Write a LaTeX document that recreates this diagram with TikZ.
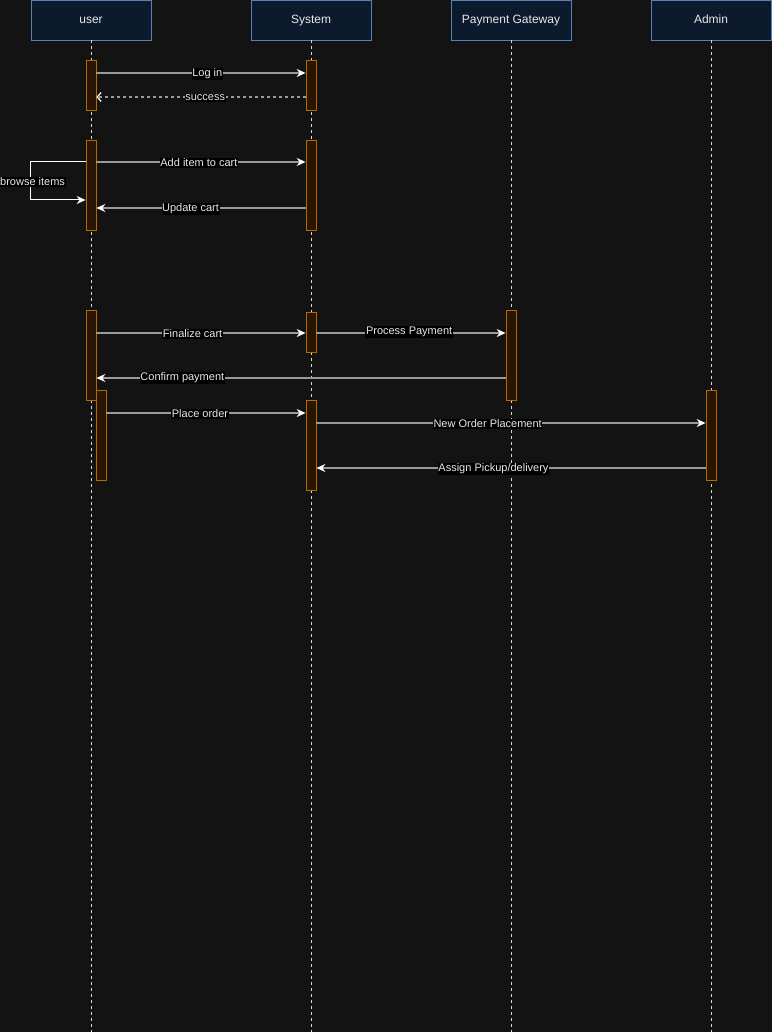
\documentclass[tikz,border=0pt]{standalone}
\usepackage{fontspec}
\setmainfont{Liberation Sans}
\usetikzlibrary{arrows.meta}

\definecolor{bgdark}{HTML}{131313}
\definecolor{headfill}{HTML}{0C1A2E}
\definecolor{headline}{HTML}{5A80B4}
\definecolor{actfill}{HTML}{2A1600}
\definecolor{actline}{HTML}{B56A00}
\definecolor{msggray}{HTML}{9A9A9A}
\definecolor{txtlight}{HTML}{E8E8E8}

\tikzset{
  head/.style={draw=headline, fill=headfill, minimum width=120pt, minimum height=40pt,
    inner sep=0pt, text=txtlight, text height=8.5pt, text depth=2.5pt,
    font=\fontsize{12}{14}\selectfont},
  headtxt/.style={text=txtlight, inner sep=0pt, font=\fontsize{12}{14}\selectfont},
  life/.style={draw=white!85!black, dash pattern=on 3pt off 3pt, line width=0.8pt},
  act/.style={draw=actline, fill=actfill, minimum width=10pt, inner sep=0pt, line width=0.8pt},
  msg/.style={draw=msggray, line width=1.2pt, -{Stealth[length=9pt,width=8pt,inset=3pt,fill=white,color=white]}},
  reply/.style={msg, dash pattern=on 3pt off 3pt, -{Straight Barb[length=4pt,width=9pt,color=white]}},
  lbl/.style={fill=black, text=txtlight, inner sep=0.6pt, yshift=-1pt,
    font=\fontsize{11}{13}\selectfont},
}

\begin{document}
\begin{tikzpicture}[x=1pt, y=-1pt]
    \fill[bgdark] (0,0) rectangle (772,1032);
    \useasboundingbox (0,0) rectangle (772,1032);
    \coordinate (bot) at (0,1032);

    % lifeline heads
    \node[head] (user) at (91, 20){};
    \node[head] (sys) at (311, 20){};
    \node[head] (pay) at (511, 20){};
    \node[head] (adm) at (711, 20){};
    \node[headtxt, anchor=base] (usertxt) at (91, 24){user};
    \node[headtxt, anchor=base] (systxt) at (311, 24){System};
    \node[headtxt, anchor=base] (paytxt) at (511, 24){Payment Gateway};
    \node[headtxt, anchor=base] (admtxt) at (711, 24){Admin};

    \draw[life] (user.south)--(user.south |- bot);
    \draw[life] (sys.south)--(sys.south |- bot);
    \draw[life] (pay.south)--(pay.south |- bot);
    \draw[life] (adm.south)--(adm.south |- bot);

    % activations
    \node[act, minimum height=50pt] (u1) at (91, 85){};
    \node[act, minimum height=50pt] (s1) at (311, 85){};

    \node[act, minimum height=90pt] (u2) at (91, 185){};
    \node[act, minimum height=90pt] (s2) at (311, 185){};

    \node[act, minimum height=90pt] (u3) at (91, 355){};
    \node[act, minimum height=40pt] (s3) at (311, 332){};
    \node[act, minimum height=90pt] (p3) at (511, 355){};

    \node[act, minimum height=90pt] (u4) at (101, 435){};
    \node[act, minimum height=90pt] (s4) at (311, 445){};
    \node[act, minimum height=90pt] (a4) at (711, 435){};

    % messages
    \draw[msg] (u1.east |- 0,73)--node[lbl, pos=0.53]{Log in}(s1.west |- 0,73);
    \draw[reply] (s1.west |- 0,97)--node[lbl, pos=0.48]{success}(u1.east |- 0,97);

    \draw[msg] (u2.east |- 0,162)--node[lbl, pos=0.49]{Add item to cart}(s2.west |- 0,162);
    \draw[draw=white, line width=1pt, -{Stealth[length=9pt,width=8pt,inset=3pt,fill=white]}]
      (u2.west |- 0,162)--++(-55,0) |- node[lbl, pos=0.25, xshift=2pt]{browse items}(u2.west |- 0,200);
    \draw[msg] (s2.west |- 0,208)--node[lbl, pos=0.55]{Update cart}(u2.east |- 0,208);

    \draw[msg] (u3.east |- 0,333)--node[lbl, pos=0.46]{Finalize cart}(s3.west |- 0,333);
    \draw[msg] (s3.east |- 0,333)--node[lbl, pos=0.49, yshift=2pt]{Process Payment}(p3.west |- 0,333);
    \draw[msg] (p3.west |- 0,378)--node[lbl, pos=0.79, yshift=1pt]{Confirm payment}(u3.east |- 0,378);

    \draw[msg] (u4.east |- 0,413)--node[lbl, pos=0.47]{Place order}(s4.west |- 0,413);
    \draw[msg] (s4.east |- 0,423)--node[lbl, pos=0.44]{New Order Placement}(a4.west |- 0,423);
    \draw[msg] (a4.west |- 0,468)--node[lbl, pos=0.545]{Assign Pickup/delivery}(s4.east |- 0,468);

\end{tikzpicture}
\end{document}
